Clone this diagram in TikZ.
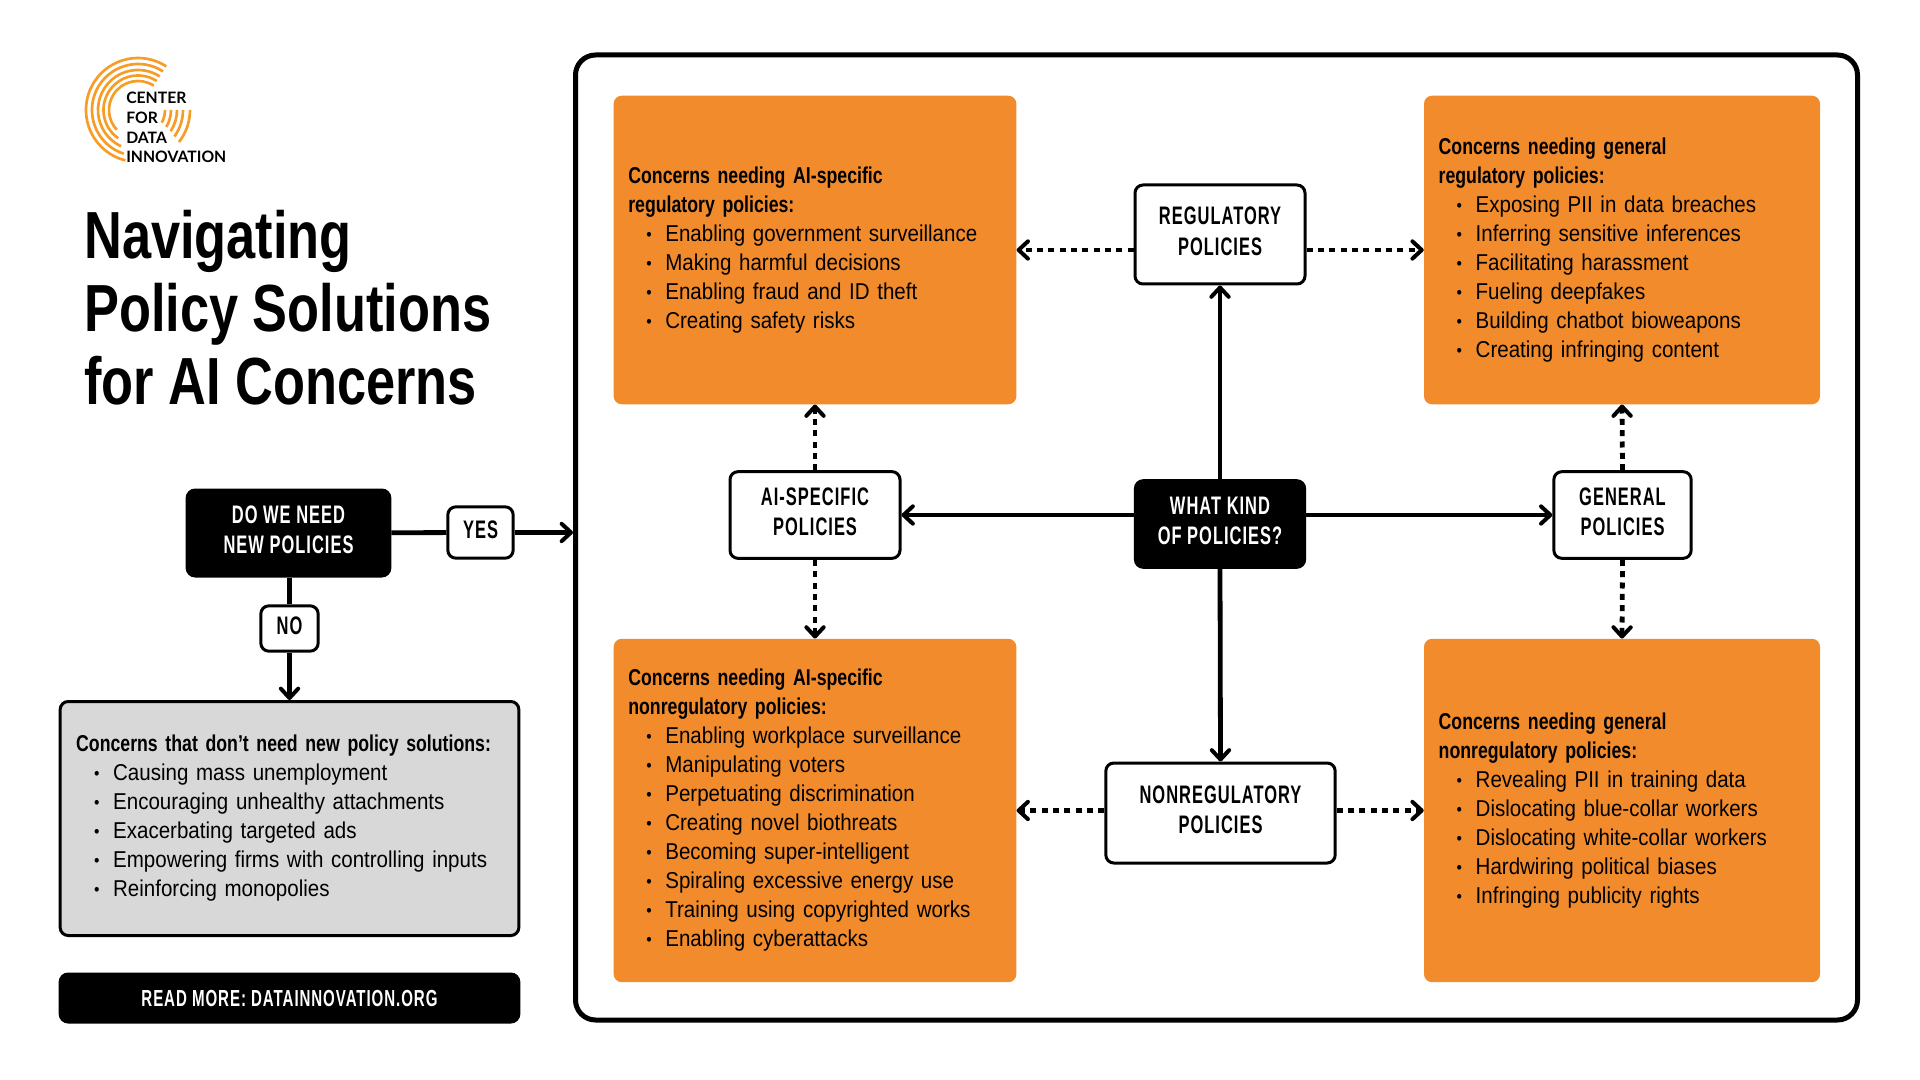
\documentclass[tikz,border=0pt]{standalone}
\usepackage{fontspec}
\usepackage{tikz}
\usetikzlibrary{arrows.meta}
\setmainfont{Liberation Sans}[FakeStretch=0.895]
\newfontfamily\headfont{Liberation Sans}[FakeStretch=0.772]
\newfontfamily\titlefont{Liberation Sans}[FakeStretch=0.785]
\newfontfamily\capsfont{Liberation Sans}[FakeStretch=0.65,LetterSpace=4]
\newfontfamily\logofont{Lato}
\definecolor{orangefill}{RGB}{242,139,44}
\definecolor{logoorange}{RGB}{247,157,38}
\definecolor{greyfill}{RGB}{216,216,216}
\newcommand{\itm}{\\\hspace*{13.5pt}\makebox[14.25pt][l]{\raisebox{0.8pt}{\fontsize{13pt}{13pt}\selectfont\textbullet}}}
\newcommand{\hd}[1]{{\headfont\bfseries #1}}
\tikzset{
  bodytext/.style={font=\fontsize{17.2pt}{21.75pt}\selectfont},
  orangebox/.style={fill=orangefill,rounded corners=6pt,bodytext,align=left,text width=280pt,inner xsep=11pt,inner ysep=0pt},
  whitebox/.style={draw,line width=2.25pt,fill=white,rounded corners=6pt,align=center,text depth=5pt,font=\capsfont\bfseries\fontsize{19pt}{23pt}\selectfont},
  blackbox/.style={whitebox,draw=black,fill=black,text=white},
  solidarrow/.style={line width=3.6pt,-{Straight Barb[round,length=7pt,width=13pt,line width=3pt]}},
  dotarrow/.style={solidarrow,dash pattern={on 4.5pt off 4pt}},
  plainline/.style={line width=3.6pt},
  logoarc/.style={logoorange,line width=2pt}
}
\begin{document}
\begin{tikzpicture}[x=0.75pt,y=0.75pt,yscale=-1,xscale=1]
\useasboundingbox (0,0) rectangle (1920,1080);

% Logo
\foreach \r/\e in {52/-104,46/-108,40/-115,34.5/-125,29/-137}
  \draw [logoarc] (138,110) ++(-57:\r) arc [start angle=-57,end angle={-360-\e},radius=\r];
\foreach \r/\e in {27/28,33/31,39/33,45/36,52/38}
  \draw [logoarc] (138,110) ++(0:\r) arc [start angle=0,end angle=\e,radius=\r];
% Text Node
\draw (126,92) node (logotext) [anchor=north west,inner sep=0pt,align=left,font=\logofont\bfseries\fontsize{11.8pt}{14.8pt}\selectfont] {CENTER\\FOR\\DATA\\INNOVATION};
% Text Node
\draw (84,210) node (title) [anchor=north west,inner sep=0pt,align=left,font=\titlefont\bfseries\fontsize{50pt}{54.8pt}\selectfont] {Navigating\\Policy Solutions\\for AI Concerns};

% Frame
\draw (1216.5,537.5) node (frame) [draw,line width=3.75pt,rounded corners=15pt,minimum width=961.5pt,minimum height=723.75pt] {};

% Left column
\draw (288.5,533) node (needbox) [blackbox,minimum width=152pt,minimum height=64.5pt] {DO WE NEED\\NEW POLICIES};
\draw (480.5,532.5) node (yesbox) [whitebox,minimum width=49pt,minimum height=38.5pt] {YES};
\draw (289.5,628.5) node (nobox) [whitebox,minimum width=43pt,minimum height=34pt] {NO};
\draw (289.5,818.5) node (greybox) [draw,line width=2.25pt,fill=greyfill,rounded corners=6pt,minimum height=175.5pt,bodytext,align=left,text width=320pt,inner xsep=12pt,inner ysep=0pt] {\hd{Concerns that don’t need new policy solutions:}\itm Causing mass unemployment\itm Encouraging unhealthy attachments\itm Exacerbating targeted ads\itm Empowering firms with controlling inputs\itm Reinforcing monopolies};
\draw (289.5,998) node (readbox) [blackbox,minimum width=344pt,minimum height=36pt,text depth=0pt,font=\capsfont\bfseries\fontsize{17.4pt}{19pt}\selectfont] {READ MORE: DATAINNOVATION.ORG};

% Orange boxes
\draw (815,250) node (aireg) [orangebox,minimum width=302pt,minimum height=231.4pt] {\hd{Concerns needing AI-specific}\\\hd{regulatory policies:}\itm Enabling government surveillance\itm Making harmful decisions\itm Enabling fraud and ID theft\itm Creating safety risks};
\draw (1622,250) node (genreg) [orangebox,text width=275pt,minimum width=297pt,minimum height=231.4pt] {\hd{Concerns needing general}\\\hd{regulatory policies:}\itm Exposing PII in data breaches\itm Inferring sensitive inferences\itm Facilitating harassment\itm Fueling deepfakes\itm Building chatbot bioweapons\itm Creating infringing content};
\draw (815,810.5) node (ainon) [orangebox,minimum width=302pt,minimum height=257.5pt] {\hd{Concerns needing AI-specific}\\\hd{nonregulatory policies:}\itm Enabling workplace surveillance\itm Manipulating voters\itm Perpetuating discrimination\itm Creating novel biothreats\itm Becoming super-intelligent\itm Spiraling excessive energy use\itm Training using copyrighted works\itm Enabling cyberattacks};
\draw (1622,810.5) node (gennon) [orangebox,text width=275pt,minimum width=297pt,minimum height=257.5pt] {\hd{Concerns needing general}\\\hd{nonregulatory policies:}\itm Revealing PII in training data\itm Dislocating blue-collar workers\itm Dislocating white-collar workers\itm Hardwiring political biases\itm Infringing publicity rights};

% Policy boxes
\draw (1220,234.5) node (kindbox) [whitebox,minimum width=127.5pt,minimum height=74.25pt] {REGULATORY\\POLICIES};
\draw (1220,524) node (whatbox) [blackbox,minimum width=127pt,minimum height=65pt] {WHAT KIND\\OF POLICIES?};
\draw (815,515) node (aibox) [whitebox,minimum width=127.5pt,minimum height=65pt] {AI-SPECIFIC\\POLICIES};
\draw (1622.5,515) node (genbox) [whitebox,minimum width=103pt,minimum height=65pt] {GENERAL\\POLICIES};
\draw (1220.5,813) node (nonbox) [whitebox,minimum width=172pt,minimum height=75pt] {NONREGULATORY\\POLICIES};

% Connection
\draw [plainline] (needbox) -- (yesbox);
\draw [solidarrow] (yesbox) -- (yesbox -| frame.west);
\draw [plainline] (needbox.south -| nobox) -- (nobox);
\draw [solidarrow] (nobox) -- (greybox.north);
% Connection
\draw [solidarrow] (whatbox.north) -- (kindbox.south);
\draw [solidarrow] (whatbox.south) -- (nonbox.north);
\draw [solidarrow] (whatbox.west |- aibox.east) -- (aibox.east);
\draw [solidarrow] (whatbox.east |- genbox.west) -- (genbox.west);
% Connection
\draw [dotarrow] (kindbox.west |- aireg.east) -- (aireg.east);
\draw [dotarrow] (kindbox.east |- genreg.west) -- (genreg.west);
\draw [dotarrow] (nonbox.west |- ainon.east) -- (ainon.east);
\draw [dotarrow] (nonbox.east |- gennon.west) -- (gennon.west);
\draw [dotarrow] (aibox.north) -- (aireg.south);
\draw [dotarrow] (aibox.south) -- (ainon.north);
\draw [dotarrow] (genbox.north) -- (genreg.south);
\draw [dotarrow] (genbox.south) -- (gennon.north);
\end{tikzpicture}
\end{document}
